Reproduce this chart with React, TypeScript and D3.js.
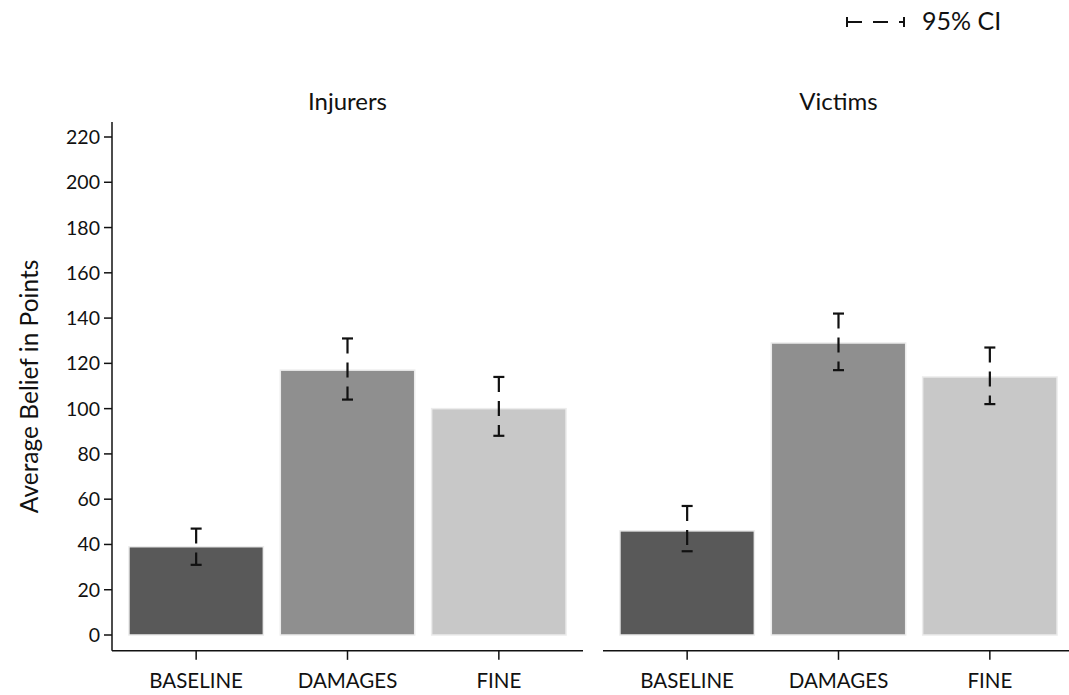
import React from 'react';
import * as d3 from 'd3';

// categories and panels
const categories = ['BASELINE', 'DAMAGES', 'FINE'];
const panels = ['Injurers', 'Victims'];

// mean beliefs per panel (same order as categories)
const injurersMean = [39, 117, 100];
const victimsMean = [46, 129, 114];

// 95% CI bounds
const injurersLow = [31, 104, 88];
const injurersHigh = [47, 131, 114];
const victimsLow = [37, 117, 102];
const victimsHigh = [57, 142, 127];

const yTicks = [0, 20, 40, 60, 80, 100, 120, 140, 160, 180, 200, 220];
const barColors = ['#595959', '#8f8f8f', '#c8c8c8'];

const W = 1069;
const H = 695;
const FONT = 'Lato, "Open Sans", sans-serif';

const panelX = [112, 603];
const panelW = 471;

const y = d3.scaleLinear().domain([0, 220]).range([635, 137]);
const yTop = y(226.6);
const yBottom = y(-7);

const x = d3.scaleBand<string>().domain(categories).range([0, panelW]).paddingInner(0.112).paddingOuter(0.112);

const series = [
  { mean: injurersMean, lo: injurersLow, hi: injurersHigh },
  { mean: victimsMean, lo: victimsLow, hi: victimsHigh },
];

const ErrBar: React.FC<{ cx: number; lo: number; hi: number }> = ({ cx, lo, hi }) => (
  <g stroke="#111" strokeWidth={2.2}>
    <line x1={cx} x2={cx} y1={y(hi)} y2={y(lo)} strokeDasharray="15,9" />
    <line x1={cx - 5.5} x2={cx + 5.5} y1={y(hi)} y2={y(hi)} />
    <line x1={cx - 5.5} x2={cx + 5.5} y1={y(lo)} y2={y(lo)} />
  </g>
);

export default function App() {
  return (
    <svg width={W} height={H} style={{ position: 'absolute', left: 0, top: 0, background: '#fff' }} fontFamily={FONT}>
      {/* legend */}
      <g stroke="#111" strokeWidth={2}>
        <line x1={847} x2={904} y1={22} y2={22} strokeDasharray="15,11" />
        <line x1={847} x2={847} y1={17} y2={27} />
        <line x1={904} x2={904} y1={17} y2={27} />
      </g>
      <text x={922} y={30} fontSize={25} fill="#111">95% CI</text>

      {/* y axis */}
      <text transform={`translate(38,${(yTop + yBottom) / 2}) rotate(-90)`} textAnchor="middle" fontSize={24.5} fill="#111">
        Average Belief in Points
      </text>
      <line x1={panelX[0]} x2={panelX[0]} y1={yTop} y2={yBottom} stroke="#111" strokeWidth={1.5} />
      {yTicks.map(t => (
        <g key={t} transform={`translate(0,${y(t)})`}>
          <line x1={panelX[0] - 8} x2={panelX[0]} stroke="#111" strokeWidth={1.5} />
          <text x={panelX[0] - 12} dy="0.36em" textAnchor="end" fontSize={19.5} fill="#111">{t}</text>
        </g>
      ))}

      {panels.map((p, pi) => {
        const x0 = panelX[pi];
        const s = series[pi];
        return (
          <g key={p} transform={`translate(${x0},0)`}>
            <text x={panelW / 2} y={110} textAnchor="middle" fontSize={24} fill="#111">{p}</text>
            <line x1={0} x2={panelW} y1={yBottom} y2={yBottom} stroke="#111" strokeWidth={1.5} />
            {categories.map((c, i) => {
              const bx = x(c) ?? 0;
              const cx = bx + x.bandwidth() / 2;
              return (
                <g key={c}>
                  <rect x={bx} y={y(s.mean[i])} width={x.bandwidth()} height={y(0) - y(s.mean[i])}
                    fill={barColors[i]} stroke="#ececec" strokeWidth={1.5} />
                  <ErrBar cx={cx} lo={s.lo[i]} hi={s.hi[i]} />
                  <line x1={cx} x2={cx} y1={yBottom} y2={yBottom + 9} stroke="#111" strokeWidth={1.5} />
                  <text x={cx} y={688} textAnchor="middle" fontSize={20.5} fill="#111">{c}</text>
                </g>
              );
            })}
          </g>
        );
      })}
    </svg>
  );
}
